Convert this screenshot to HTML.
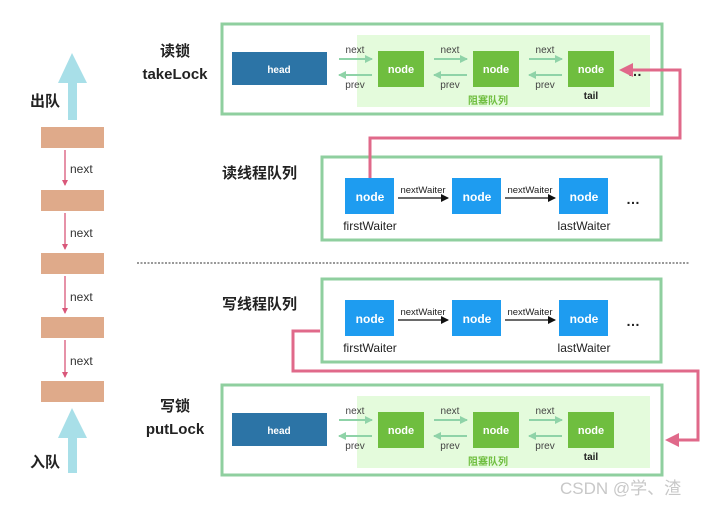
<!DOCTYPE html>
<html><head><meta charset="utf-8"><style>
html,body{margin:0;padding:0;background:#fff;}
svg{display:block;font-family:"Liberation Sans","Noto Sans CJK SC",sans-serif;}
</style></head><body>
<svg width="706" height="505" viewBox="0 0 706 505" xmlns="http://www.w3.org/2000/svg">
<defs>
<marker id="pk" markerWidth="6" markerHeight="6" refX="5" refY="3" orient="auto" markerUnits="userSpaceOnUse"><path d="M0,0 L6,3 L0,6 z" fill="#d9577a"/></marker>
<marker id="bk" markerWidth="8" markerHeight="8" refX="7" refY="4" orient="auto" markerUnits="userSpaceOnUse"><path d="M0,0 L8,4 L0,8 z" fill="#111"/></marker>
<marker id="gr" markerWidth="8" markerHeight="8" refX="7" refY="4" orient="auto" markerUnits="userSpaceOnUse"><path d="M0,0 L8,4 L0,8 z" fill="#8fd3a8"/></marker>
</defs>
<!-- left column -->
<polygon points="72,53 87,83 77,83 77,120 68,120 68,83 58,83" fill="#a8dfe8"/>
<polygon points="72,408 87,438 77,438 77,473 68,473 68,438 58,438" fill="#a8dfe8"/>
<text x="30" y="106" font-size="15" font-weight="bold" fill="#222">出队</text>
<text x="30" y="467" font-size="15" font-weight="bold" fill="#222">入队</text>
<g fill="#dfaa8a">
<rect x="41" y="127" width="63" height="21"/>
<rect x="41" y="190" width="63" height="21"/>
<rect x="41" y="253" width="63" height="21"/>
<rect x="41" y="317" width="63" height="21"/>
<rect x="41" y="381" width="63" height="21"/>
</g>
<g stroke="#d9577a" stroke-width="1.3" marker-end="url(#pk)">
<line x1="65" y1="150" x2="65" y2="185"/>
<line x1="65" y1="213" x2="65" y2="249"/>
<line x1="65" y1="276" x2="65" y2="313"/>
<line x1="65" y1="340" x2="65" y2="377"/>
</g>
<g font-size="12" fill="#333">
<text x="70" y="173">next</text><text x="70" y="237">next</text><text x="70" y="301">next</text><text x="70" y="365">next</text>
</g>
<!-- labels -->
<g font-size="15" font-weight="bold" fill="#222" text-anchor="middle">
<text x="175" y="56">读锁</text><text x="175" y="79">takeLock</text>
<text x="175" y="411">写锁</text><text x="175" y="434">putLock</text>
</g>
<g font-size="15" font-weight="bold" fill="#222">
<text x="222" y="178">读线程队列</text>
<text x="222" y="309">写线程队列</text>
</g>
<line x1="137" y1="263" x2="690" y2="263" stroke="#333" stroke-dasharray="2,1.5" stroke-width="1"/>

<!-- lock boxes -->
<g id="lock">
<rect x="222" y="24" width="440" height="90" fill="none" stroke="#8fcf9f" stroke-width="3"/>
<rect x="357" y="35" width="293" height="72" fill="#e4fbdc"/>
<rect x="232" y="52" width="95" height="33" fill="#2c74a6"/>
<text x="279" y="73" font-size="10" font-weight="bold" fill="#fff" text-anchor="middle">head</text>
<g fill="#6fbe3f"><rect x="378" y="51" width="46" height="36"/><rect x="473" y="51" width="46" height="36"/><rect x="568" y="51" width="46" height="36"/></g>
<g font-size="11" font-weight="bold" fill="#fff" text-anchor="middle"><text x="401" y="73">node</text><text x="496" y="73">node</text><text x="591" y="73">node</text></g>
<g stroke="#8fd3a8" stroke-width="2">
<line x1="339" y1="59" x2="372" y2="59" marker-end="url(#gr)"/><line x1="434" y1="59" x2="467" y2="59" marker-end="url(#gr)"/><line x1="529" y1="59" x2="562" y2="59" marker-end="url(#gr)"/>
<line x1="372" y1="75" x2="339" y2="75" marker-end="url(#gr)"/><line x1="467" y1="75" x2="434" y2="75" marker-end="url(#gr)"/><line x1="562" y1="75" x2="529" y2="75" marker-end="url(#gr)"/>
</g>
<g font-size="10" fill="#444" text-anchor="middle">
<text x="355" y="53">next</text><text x="450" y="53">next</text><text x="545" y="53">next</text>
<text x="355" y="88">prev</text><text x="450" y="88">prev</text><text x="545" y="88">prev</text>
</g>
<text x="591" y="99" font-size="10" font-weight="bold" fill="#222" text-anchor="middle">tail</text>
<text x="488" y="104" font-size="10" fill="#6fbe3f" font-weight="bold" text-anchor="middle">阻塞队列</text>
</g>
<use href="#lock" transform="translate(0,361)"/>
<text x="628" y="76" font-size="14" font-weight="bold" fill="#222">…</text>

<!-- waiter boxes -->
<g id="wait">
<rect x="322" y="157" width="339" height="83" fill="none" stroke="#8fcf9f" stroke-width="3"/>
<g fill="#1e9cf0"><rect x="345" y="178" width="49" height="36"/><rect x="452" y="178" width="49" height="36"/><rect x="559" y="178" width="49" height="36"/></g>
<g font-size="12" font-weight="bold" fill="#fff" text-anchor="middle"><text x="370" y="201">node</text><text x="477" y="201">node</text><text x="584" y="201">node</text></g>
<g stroke="#111" stroke-width="1.2" marker-end="url(#bk)"><line x1="398" y1="198" x2="448" y2="198"/><line x1="505" y1="198" x2="555" y2="198"/></g>
<g font-size="9.5" fill="#222" text-anchor="middle"><text x="423" y="193">nextWaiter</text><text x="530" y="193">nextWaiter</text></g>
<g font-size="12" fill="#222" text-anchor="middle"><text x="370" y="230">firstWaiter</text><text x="584" y="230">lastWaiter</text></g>
<text x="626" y="204" font-size="14" font-weight="bold" fill="#222">…</text>
</g>
<use href="#wait" transform="translate(0,122)"/>

<!-- pink connectors -->
<polyline points="370,178 370,138 680,138 680,70 630,70" fill="none" stroke="#e0698a" stroke-width="3"/>
<polygon points="619,70 633,63 633,77" fill="#e0698a"/>
<polyline points="320,331 293,331 293,371 698,371 698,440 677,440" fill="none" stroke="#e0698a" stroke-width="3"/>
<polygon points="665,440 679,433 679,447" fill="#e0698a"/>

<text x="560" y="494" font-size="17" fill="#c8c8c8">CSDN @学、渣</text>
</svg>
</body></html>
